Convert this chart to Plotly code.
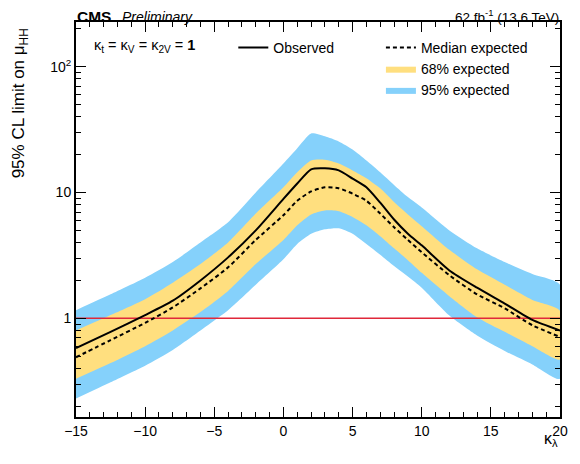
import plotly.graph_objects as go

# ---- data ----
kl = [-15, -12.5, -10, -8, -6, -4, -2, 0, 1, 2, 3, 4, 5, 6, 7, 8, 9, 10, 12, 14, 16, 18, 20]
observed = [0.58, 0.78, 1.06, 1.38, 2.0, 3.05, 5.0, 8.9, 11.8, 15.3, 15.6, 15.0, 12.9, 11.0, 8.3, 6.1, 4.7, 3.8, 2.4, 1.75, 1.31, 0.97, 0.80]
median = [0.49, 0.67, 0.92, 1.22, 1.73, 2.54, 4.2, 6.6, 8.6, 10.2, 11.0, 10.8, 9.8, 8.6, 6.8, 5.3, 4.2, 3.35, 2.2, 1.55, 1.2, 0.88, 0.71]
band68_up = [0.80, 1.06, 1.42, 1.92, 2.7, 4.0, 6.8, 11.0, 14.5, 18.0, 18.2, 17.0, 15.0, 13.0, 10.8, 8.4, 6.7, 5.4, 3.5, 2.45, 1.85, 1.4, 1.15]
band68_lo = [0.33, 0.44, 0.60, 0.80, 1.12, 1.65, 2.7, 4.2, 5.5, 6.7, 7.2, 7.1, 6.4, 5.5, 4.5, 3.6, 2.9, 2.3, 1.5, 1.02, 0.78, 0.60, 0.47]
band95_up = [1.16, 1.55, 2.1, 2.8, 4.0, 5.8, 10.0, 17.0, 22.5, 29.5, 28.0, 25.5, 22.0, 18.0, 14.5, 11.5, 9.2, 7.6, 5.0, 3.6, 2.8, 2.25, 1.85]
band95_lo = [0.23, 0.31, 0.42, 0.56, 0.80, 1.16, 1.85, 2.95, 3.9, 4.7, 5.1, 5.2, 4.7, 3.9, 3.2, 2.6, 2.15, 1.75, 1.05, 0.73, 0.55, 0.43, 0.33]
ref_x = [-15, 20]
ref_y = [1, 1]

x_ticks = [-15, -10, -5, 0, 5, 10, 15, 20]
y_ticks = [1, 10, 100]
y_ticktext = ["1", "10", "10<sup>2</sup>"]
y_minor = [0.2, 0.3, 0.4, 0.5, 0.6, 0.7, 0.8, 0.9, 2, 3, 4, 5, 6, 7, 8, 9,
           20, 30, 40, 50, 60, 70, 80, 90, 200]

FONT = "Liberation Sans, Arial, sans-serif"
YELLOW = "#ffdf7f"
BLUE = "#85d1fb"
RED = "#e0283a"

fig = go.Figure()

fig.add_trace(go.Scatter(
    x=kl + kl[::-1], y=band95_up + band95_lo[::-1],
    fill="toself", fillcolor=BLUE, line=dict(width=0, shape="spline", smoothing=0.6),
    mode="lines", name="95% expected", legend="legend2", hoverinfo="skip"))
fig.add_trace(go.Scatter(
    x=kl + kl[::-1], y=band68_up + band68_lo[::-1],
    fill="toself", fillcolor=YELLOW, line=dict(width=0, shape="spline", smoothing=0.6),
    mode="lines", name="68% expected", legend="legend2", hoverinfo="skip"))
fig.add_trace(go.Scatter(
    x=ref_x, y=ref_y, mode="lines", line=dict(color=RED, width=1.6),
    showlegend=False, hoverinfo="skip"))
fig.add_trace(go.Scatter(
    x=kl, y=median, mode="lines",
    line=dict(color="black", width=2, dash="4px,3px", shape="spline", smoothing=0.6),
    name="Median expected", legend="legend2"))
fig.add_trace(go.Scatter(
    x=kl, y=observed, mode="lines",
    line=dict(color="black", width=2, shape="spline", smoothing=0.6),
    name="Observed", legend="legend"))

# invisible trace to host minor y ticks on the overlay axis
fig.add_trace(go.Scatter(x=[None], y=[None], yaxis="y2", showlegend=False))

fig.update_layout(
    width=572, height=456,
    margin=dict(l=68, r=14, t=14, b=47),
    paper_bgcolor="white", plot_bgcolor="white",
    font=dict(family=FONT, size=14, color="black"),
    xaxis=dict(
        range=[-15, 20], tickvals=x_ticks, ticks="inside", ticklen=10, tickwidth=1,
        tickcolor="black", showline=True, linecolor="black", linewidth=2, mirror="ticks",
        showgrid=False, zeroline=False, tickfont=dict(size=14),
        minor=dict(dtick=1, tick0=-15, ticks="inside", ticklen=5, tickcolor="black", showgrid=False),
    ),
    yaxis=dict(
        type="log", range=[-0.785, 2.356], tickvals=y_ticks, ticktext=y_ticktext,
        ticks="inside", ticklen=10, tickwidth=1, tickcolor="black",
        showline=True, linecolor="black", linewidth=2, mirror="ticks",
        showgrid=False, zeroline=False, tickfont=dict(size=14),
    ),
    yaxis2=dict(
        type="log", range=[-0.785, 2.356], overlaying="y", side="left", anchor="x",
        tickvals=y_minor, showticklabels=False, ticks="inside", ticklen=5,
        tickcolor="black", showline=False, mirror="ticks", showgrid=False, zeroline=False,
    ),
    legend=dict(
        x=0.325, y=0.975, xanchor="left", yanchor="top", bgcolor="rgba(0,0,0,0)",
        font=dict(size=14), itemwidth=30,
    ),
    legend2=dict(
        x=0.63, y=0.975, xanchor="left", yanchor="top", bgcolor="rgba(0,0,0,0)",
        font=dict(size=14), itemwidth=30, traceorder="reversed",
    ),
    showlegend=True,
)

ann = [
    dict(text="<b>CMS</b>", x=0, y=1, xref="paper", yref="paper", xanchor="left",
         yanchor="bottom", showarrow=False, font=dict(size=15.5), yshift=-4, borderpad=0),
    dict(text="<i>Preliminary</i>", x=0.093, y=1, xref="paper", yref="paper", xanchor="left",
         yanchor="bottom", showarrow=False, font=dict(size=14), yshift=-4, borderpad=0),
    dict(text="62 fb<sup>-1</sup> (13.6 TeV)", x=1, y=1, xref="paper", yref="paper",
         xanchor="right", yanchor="bottom", showarrow=False, font=dict(size=13.5), yshift=-4,
         borderpad=0),
    dict(text="κ<sub>t</sub> = κ<sub>V</sub> = κ<sub>2V</sub> = <b>1</b>", x=0.033, y=0.94,
         xref="paper", yref="paper", xanchor="left", yanchor="middle", showarrow=False,
         font=dict(size=14.5)),
    dict(text="95% CL limit on μ<sub>HH</sub>", x=-0.115, y=1.0, xref="paper", yref="paper",
         xanchor="center", yanchor="top", textangle=-90, showarrow=False, font=dict(size=17),
         yshift=-4),
    dict(text="κ<sub>λ</sub>", x=1, y=-0.028, xref="paper", yref="paper",
         xanchor="right", yanchor="top", showarrow=False, font=dict(size=16)),
]
fig.update_layout(annotations=ann)

fig.write_html("out.html")
